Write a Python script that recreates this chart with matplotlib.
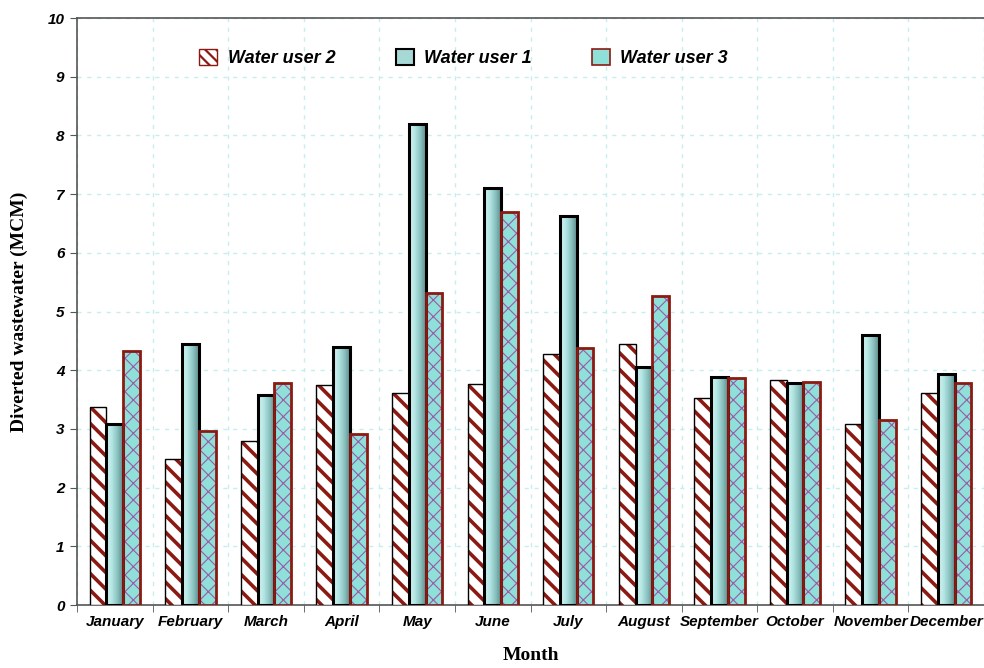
import numpy as np
import matplotlib.pyplot as plt
from matplotlib.patches import Patch
from matplotlib.colors import LinearSegmentedColormap

months = ['January', 'February', 'March', 'April', 'May', 'June', 'July',
          'August', 'September', 'October', 'November', 'December']
user2 = [3.38, 2.48, 2.80, 3.75, 3.62, 3.76, 4.27, 4.45, 3.52, 3.83, 3.08, 3.62]
user1 = [3.08, 4.45, 3.57, 4.40, 8.20, 7.10, 6.62, 4.05, 3.88, 3.78, 4.60, 3.93]
user3 = [4.33, 2.97, 3.78, 2.92, 5.32, 6.70, 4.38, 5.27, 3.87, 3.80, 3.15, 3.78]

red = '#8b1a12'
purple = '#9a5aa8'
cyan = '#8fe0d8'
grid_c = '#c6eeee'
tick_font = {'family': 'Liberation Sans', 'weight': 'bold', 'style': 'italic', 'size': 11}

plt.rcParams['hatch.linewidth'] = 2.6

fig = plt.figure(figsize=(9.84, 6.68), dpi=100)
ax = fig.add_axes([0.0783, 0.0943, 0.9217, 0.8787])

x = np.arange(len(months))
w = 0.222

# water user 2: white with red diagonal stripes
ax.bar(x - w, user2, w, color='white', edgecolor=red, hatch='\\\\', linewidth=0, zorder=3)
ax.bar(x - w, user2, w, fill=False, edgecolor='black', linewidth=1.0, zorder=4)

# water user 1: shaded cyan column with black outline
grad = np.linspace(0, 1, 64).reshape(1, -1)
cmap = LinearSegmentedColormap.from_list('col', ['#d8f6f4', '#b4e6e4', '#8cc4c2', '#5f8f8e'])
bars1 = ax.bar(x, user1, w, fill=False, edgecolor='black', linewidth=2.2, zorder=4)
for b in bars1:
    x0, y0 = b.get_x(), b.get_y()
    im = ax.imshow(grad, cmap=cmap, aspect='auto', zorder=3,
                   extent=(x0, x0 + b.get_width(), y0, y0 + b.get_height()))
    im.set_clip_path(b)

# water user 3: cyan with purple crosshatch, red outline
plt.rcParams['hatch.linewidth'] = 0.8
ax.bar(x + w, user3, w, color=cyan, edgecolor=purple, hatch='xx', linewidth=0, zorder=3)
ax.bar(x + w, user3, w, fill=False, edgecolor=red, linewidth=2.0, zorder=4)

ax.set_xlim(-0.5, 11.5)
ax.set_ylim(0, 10)
ax.set_yticks(range(0, 11))

ax.set_xticks(x)
ax.set_xticklabels(months)
ax.set_xticks(np.arange(-0.5, 12, 1), minor=True)
ax.tick_params(axis='x', which='major', length=0, pad=7)
ax.tick_params(axis='x', which='minor', length=5, color='#555555', direction='out')
ax.tick_params(axis='y', length=5, color='#555555', direction='out', pad=4)

for lab in ax.get_xticklabels() + ax.get_yticklabels():
    lab.set_fontproperties(tick_font)

ax.grid(axis='y', which='major', color=grid_c, linestyle=(0, (3, 4)), linewidth=1.0, zorder=0)
ax.grid(axis='x', which='minor', color=grid_c, linestyle=(0, (3, 4)), linewidth=1.0, zorder=0)
ax.set_axisbelow(True)

for s in ['left', 'bottom', 'top']:
    ax.spines[s].set_color('#555555')
    ax.spines[s].set_linewidth(1.2)
ax.spines['right'].set_visible(False)

ax.set_xlabel('Month', fontfamily='Liberation Serif', fontweight='bold', fontsize=14, labelpad=13)
ax.set_ylabel('Diverted wastewater (MCM)', fontfamily='Liberation Serif', fontweight='bold',
              fontsize=14, labelpad=14)

plt.rcParams['hatch.linewidth'] = 1.6
handles = [
    Patch(facecolor='white', edgecolor=red, hatch='\\\\\\', label='Water user 2'),
    Patch(facecolor='#a6d8d6', edgecolor='black', linewidth=1.5, label='Water user 1'),
    Patch(facecolor=cyan, edgecolor=red, linewidth=1.2, label='Water user 3'),
]
ax.legend(handles=handles, loc='upper left', bbox_to_anchor=(0.117, 0.975), ncol=3,
          frameon=False, columnspacing=3.3, handlelength=1.0, handleheight=1.0,
          handletextpad=0.6,
          prop={'family': 'Liberation Sans', 'weight': 'bold', 'style': 'italic', 'size': 13})

fig.savefig('out.png', dpi=100)
